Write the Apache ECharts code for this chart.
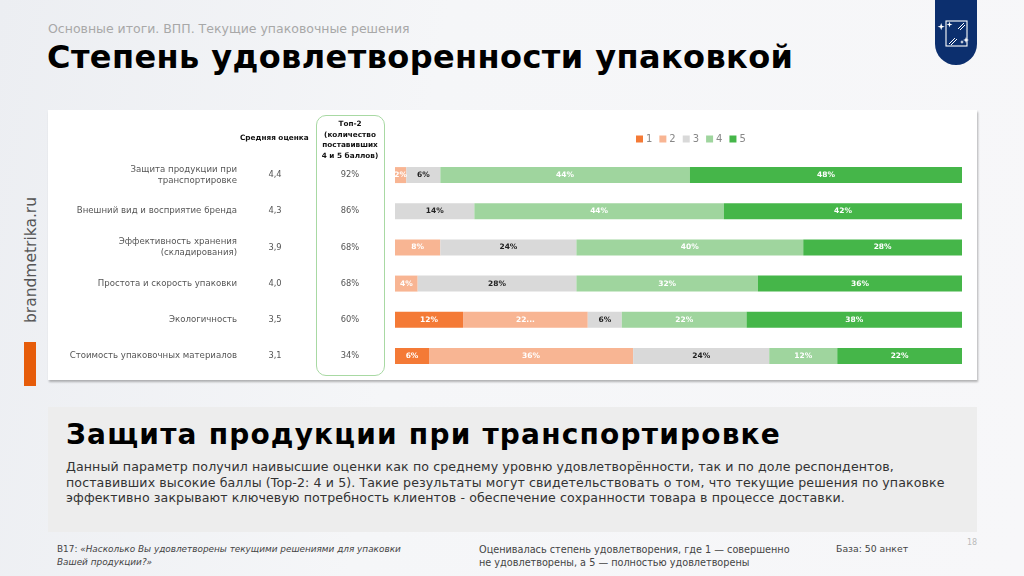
<!DOCTYPE html>
<html>
<head>
<meta charset="utf-8">
<script src="https://cdn.jsdelivr.net/npm/echarts@6/dist/echarts.min.js"></script>
<style>
html,body{margin:0;padding:0;}
body{width:1024px;height:576px;overflow:hidden;position:relative;font-family:"DejaVu Sans",sans-serif;
background:linear-gradient(100deg,#eceef2 0%,#f5f6f8 40%,#f7f7f9 100%);}
.abs{position:absolute;white-space:nowrap;}
#sub{left:48px;top:21px;font-size:12.5px;color:#a8a8a8;}
#title{left:47px;top:38px;font-size:32px;font-weight:bold;color:#000;letter-spacing:0.4px;}
#logo{left:935px;top:-30px;width:42px;height:95px;background:#0c2f6e;border-radius:21px;}
#panel{left:48px;top:110px;width:929px;height:270px;background:#fff;box-shadow:1px 2px 2px rgba(0,0,0,0.28);}
#topbox{left:316px;top:115px;width:67px;height:259px;border:1px solid #a8d9a3;border-radius:10px;}
#gray{left:48px;top:407px;width:929px;height:125px;background:#ededed;}
#h2{left:66px;top:418px;font-size:28px;font-weight:bold;color:#000;letter-spacing:1.2px;}
#body{left:66px;top:459px;font-size:12.6px;line-height:15.6px;color:#333;letter-spacing:0.1px;}
#f1{left:57px;top:543px;font-size:8.9px;line-height:13px;color:#444;}
#f2{left:479px;top:543px;font-size:9.7px;line-height:13px;color:#444;}
#f3{left:836px;top:543px;font-size:9.3px;color:#444;}
#pg{left:967px;top:538px;font-size:8px;color:#bbb;}
#vert{left:31px;top:260px;font-size:15.5px;color:#555;transform:translate(-50%,-50%) rotate(-90deg);}
#obar{left:24px;top:342px;width:12px;height:44px;background:#e65c0a;}
#chart{position:absolute;left:0;top:0;width:1024px;height:576px;}
</style>
</head>
<body>
<div class="abs" id="sub">Основные итоги. ВПП. Текущие упаковочные решения</div>
<div class="abs" id="title">Степень удовлетворенности упаковкой</div>
<div class="abs" id="logo"></div>
<svg class="abs" style="left:935px;top:15px" width="42" height="40" viewBox="0 0 42 40">
  <rect x="11" y="6" width="21" height="25" fill="none" stroke="#fff" stroke-width="1.1"/>
  <line x1="23" y1="14" x2="29" y2="8" stroke="#fff" stroke-width="1"/>
  <line x1="25" y1="15" x2="30" y2="10" stroke="#fff" stroke-width="1"/>
  <line x1="14" y1="29" x2="20" y2="23" stroke="#fff" stroke-width="1"/>
  <line x1="16" y1="30" x2="22" y2="24" stroke="#fff" stroke-width="1"/>
  <path d="M8 9 L9 12 L12 13 L9 14 L8 17 L7 14 L4 13 L7 12 Z" fill="#fff" transform="translate(-1,0) scale(0.9)"/>
  <path d="M15 7 L15.7 9.3 L18 10 L15.7 10.7 L15 13 L14.3 10.7 L12 10 L14.3 9.3 Z" fill="#fff" transform="translate(-0.5,-0.5)"/>
  <path d="M31 22 L31.8 24.2 L34 25 L31.8 25.8 L31 28 L30.2 25.8 L28 25 L30.2 24.2 Z" fill="#fff"/>
  <path d="M27 25 L27.6 26.4 L29 27 L27.6 27.6 L27 29 L26.4 27.6 L25 27 L26.4 26.4 Z" fill="#fff"/>
</svg>
<div class="abs" id="vert">brandmetrika.ru</div>
<div class="abs" id="obar"></div>
<div class="abs" id="panel"></div>
<div class="abs" id="topbox"></div>
<div class="abs" id="gray"></div>
<div class="abs" id="h2">Защита продукции при транспортировке</div>
<div class="abs" id="body">Данный параметр получил наивысшие оценки как по среднему уровню удовлетворённости, так и по доле респондентов,<br>поставивших высокие баллы (Top-2: 4 и 5). Такие результаты могут свидетельствовать о том, что текущие решения по упаковке<br>эффективно закрывают ключевую потребность клиентов - обеспечение сохранности товара в процессе доставки.</div>
<div class="abs" id="f1">В17: <i>«Насколько Вы удовлетворены текущими решениями для упаковки<br>Вашей продукции?»</i></div>
<div class="abs" id="f2">Оценивалась степень удовлетворения, где 1 — совершенно<br>не удовлетворены, а 5 — полностью удовлетворены</div>
<div class="abs" id="f3">База: 50 анкет</div>
<div class="abs" id="pg">18</div>
<div id="chart"></div>
<script>
// ---- data ----
const categories = [
  'Защита продукции при\nтранспортировке',
  'Внешний вид и восприятие бренда',
  'Эффективность хранения\n(складирования)',
  'Простота и скорость упаковки',
  'Экологичность',
  'Стоимость упаковочных материалов'
];
const avgScores = [4.4, 4.3, 3.9, 4.0, 3.5, 3.1];
const top2 = [92, 86, 68, 68, 60, 34];
const seriesNames = ['1', '2', '3', '4', '5'];
const score1 = [0, 0, 0, 0, 12, 6];
const score2 = [2, 0, 8, 4, 22, 36];
const score3 = [6, 14, 24, 28, 6, 24];
const score4 = [44, 44, 40, 32, 22, 12];
const score5 = [48, 42, 28, 36, 38, 22];
// label shown truncated in the source for row "Экологичность", score 2
const truncatedLabels = { '1-4': '22...' };

const colors = ['#f47a36', '#f8b593', '#d9d9d9', '#9fd59e', '#45b649'];
const labelColors = ['#fff', '#fff', '#222', '#fff', '#fff'];
const allScores = [score1, score2, score3, score4, score5];

const chart = echarts.init(document.getElementById('chart'), null, {renderer: 'canvas'});
const FF = '"DejaVu Sans", sans-serif';

const series = allScores.map((arr, si) => ({
  name: seriesNames[si],
  type: 'bar',
  stack: 'total',
  barWidth: 16,
  data: arr,
  itemStyle: {color: colors[si]},
  label: {
    show: true,
    position: 'inside',
    color: labelColors[si],
    fontSize: 7.5,
    fontWeight: 'bold',
    fontFamily: FF,
    formatter: p => {
      if (!p.value) return '';
      const k = si + '-' + p.dataIndex;
      return truncatedLabels[k] || (p.value + '%');
    }
  },
  emphasis: {disabled: true}
}));

const hideAxis = {axisLine: {show: false}, axisTick: {show: false}, splitLine: {show: false}};

chart.setOption({
  animation: false,
  color: colors,
  legend: {
    data: seriesNames,
    left: 631,
    top: 129,
    itemWidth: 7,
    itemHeight: 7,
    itemGap: 7,
    icon: 'rect',
    textStyle: {color: '#888', fontSize: 10, fontFamily: FF, padding: [0, 0, 0, -2]}
  },
  grid: {left: 395, right: 62, top: 157, bottom: 202},
  xAxis: {type: 'value', min: 0, max: 100, show: false},
  yAxis: [
    Object.assign({
      type: 'category', inverse: true, data: categories,
      axisLabel: {margin: 158, color: '#555', fontSize: 8.6, lineHeight: 11, fontFamily: FF, align: 'right'}
    }, hideAxis),
    Object.assign({
      type: 'category', inverse: true, data: categories, position: 'left',
      axisLabel: {margin: 120, align: 'center', color: '#555', fontSize: 8.3, fontFamily: FF,
        formatter: (v, i) => avgScores[i].toFixed(1).replace('.', ',')}
    }, hideAxis),
    Object.assign({
      type: 'category', inverse: true, data: categories, position: 'left',
      axisLabel: {margin: 45, align: 'center', color: '#555', fontSize: 8.3, fontFamily: FF,
        formatter: (v, i) => top2[i] + '%'}
    }, hideAxis)
  ],
  graphic: [
    {type: 'text', left: 240, top: 135, style: {text: 'Средняя оценка', fill: '#111', font: 'bold 7.3px ' + FF}},
    {type: 'text', x: 350, y: 119, style: {text: 'Топ-2\n(количество\nпоставивших\n4 и 5 баллов)', fill: '#111', font: 'bold 7.3px ' + FF, align: 'center', lineHeight: 10.5}}
  ],
  series: series
});
</script>
</body>
</html>
